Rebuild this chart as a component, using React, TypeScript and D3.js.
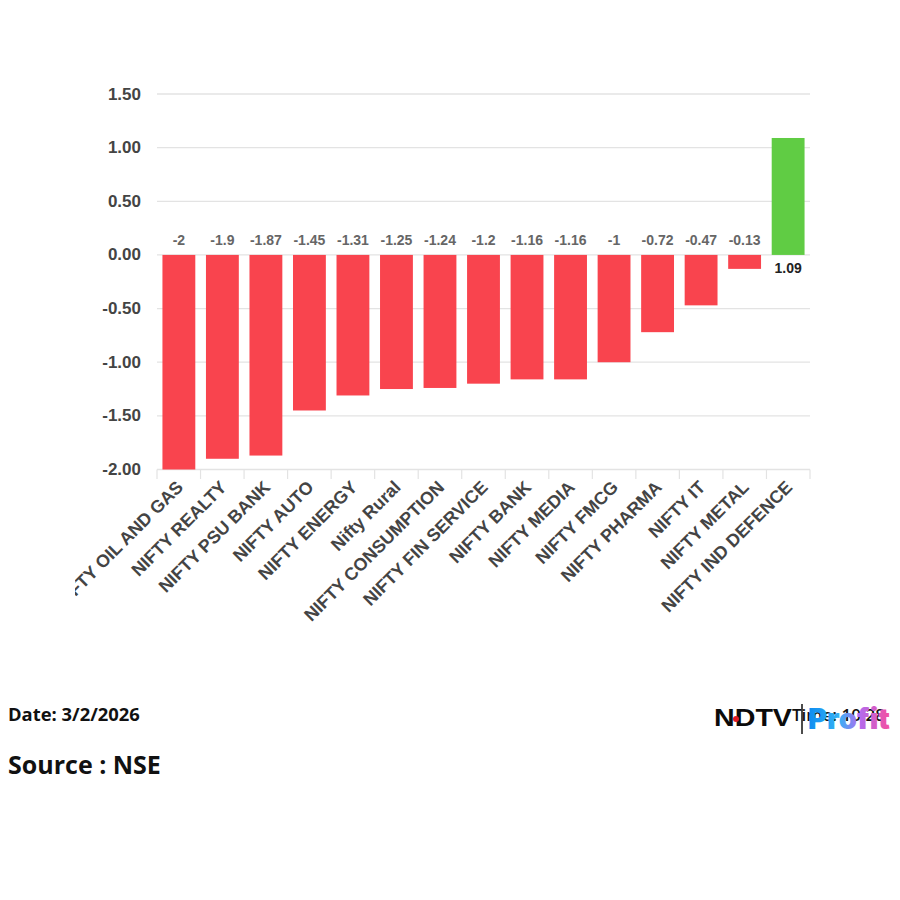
import React from "react";
import * as d3 from "d3";

const categories = ["NIFTY OIL AND GAS","NIFTY REALTY","NIFTY PSU BANK","NIFTY AUTO","NIFTY ENERGY","Nifty Rural","NIFTY CONSUMPTION","NIFTY FIN SERVICE","NIFTY BANK","NIFTY MEDIA","NIFTY FMCG","NIFTY PHARMA","NIFTY IT","NIFTY METAL","NIFTY IND DEFENCE"];
const values = [-2,-1.9,-1.87,-1.45,-1.31,-1.25,-1.24,-1.2,-1.16,-1.16,-1,-0.72,-0.47,-0.13,1.09];
const yTicks = [1.5,1,0.5,0,-0.5,-1,-1.5,-2];

const LABEL_FONT = "'Liberation Sans', Arial, sans-serif";

export default function App() {
  const x = d3.scaleBand<string>().domain(categories).range([157, 810]).paddingInner(0.245).paddingOuter(0.125);
  const y = d3.scaleLinear().domain([-2, 1.5]).range([469.5, 94]);
  const ticksX = d3.range(categories.length + 1).map(i => 157 + (i * 653) / categories.length);
  return (
    <svg width={900} height={900} viewBox="0 0 900 900" style={{ position: "absolute", left: 0, top: 0, background: "#fff" }}>
      <defs>
        <clipPath id="chartClip"><rect x={75} y={0} width={825} height={680} /></clipPath>
        <linearGradient id="profitGrad" x1="0" x2="1" y1="0" y2="0">
          <stop offset="0" stopColor="#0d8cf0" />
          <stop offset="0.38" stopColor="#35b2f5" />
          <stop offset="0.62" stopColor="#b06cf0" />
          <stop offset="1" stopColor="#f54fa0" />
        </linearGradient>
      </defs>
      {yTicks.map(t => (
        <g key={t}>
          <line x1={157} x2={810} y1={y(t)} y2={y(t)} stroke="#e3e3e3" strokeWidth={1.3} />
          <text x={141} y={y(t) + 5.5} textAnchor="end" fontFamily={LABEL_FONT} fontWeight={700} fontSize={17} fill="#444">
            {t.toFixed(2)}
          </text>
        </g>
      ))}
      {ticksX.map((tx, i) => (
        <line key={i} x1={tx} x2={tx} y1={469.5} y2={479} stroke="#e3e3e3" strokeWidth={1.2} />
      ))}
      {categories.map((c, i) => {
        const v = values[i];
        const bx = x(c)!;
        const cx = bx + x.bandwidth() / 2;
        return (
          <g key={c}>
            <rect x={bx} width={x.bandwidth()} y={Math.min(y(v), y(0))} height={Math.abs(y(v) - y(0))} fill={v < 0 ? "#f9444e" : "#60cc44"} />
            <text x={cx} y={v < 0 ? y(0) - 10 : y(0) + 18} textAnchor="middle" fontFamily={LABEL_FONT} fontWeight={700} fontSize={14} fill={v < 0 ? "#666" : "#222"}>
              {v}
            </text>
          </g>
        );
      })}
      <g clipPath="url(#chartClip)">
        {categories.map(c => {
          const cx = x(c)! + x.bandwidth() / 2;
          return (
            <text key={c} transform={`translate(${cx + 2},${485}) rotate(-45)`} textAnchor="end" dominantBaseline="middle" fontFamily={LABEL_FONT} fontWeight={700} fontSize={17.8} fill="#444">
              {c}
            </text>
          );
        })}
      </g>
      <text x={8} y={721} fontFamily="'Open Sans', sans-serif" fontWeight={700} fontSize={18.4} fill="#111">Date: 3/2/2026</text>
      <text x={8} y={774} fontFamily="'Open Sans', sans-serif" fontWeight={700} fontSize={25} fill="#111">Source : NSE</text>
      <text x={792} y={721} fontFamily="'Open Sans', sans-serif" fontWeight={600} fontSize={17} fill="#111">Time: 10:28</text>
      <text x={714} y={726} fontFamily={LABEL_FONT} fontWeight={700} fontSize={23} textLength={78} lengthAdjust="spacingAndGlyphs" fill="#0b0b0b">NDTV</text>
      <circle cx={736} cy={719} r={3} fill="#e21b23" />
      <line x1={802} x2={802} y1={704} y2={734} stroke="#111" strokeWidth={1.5} />
      <text x={808} y={729} fontFamily="Inter, sans-serif" fontWeight={900} fontSize={28} textLength={82} lengthAdjust="spacingAndGlyphs" fill="url(#profitGrad)">Profit</text>
    </svg>
  );
}
